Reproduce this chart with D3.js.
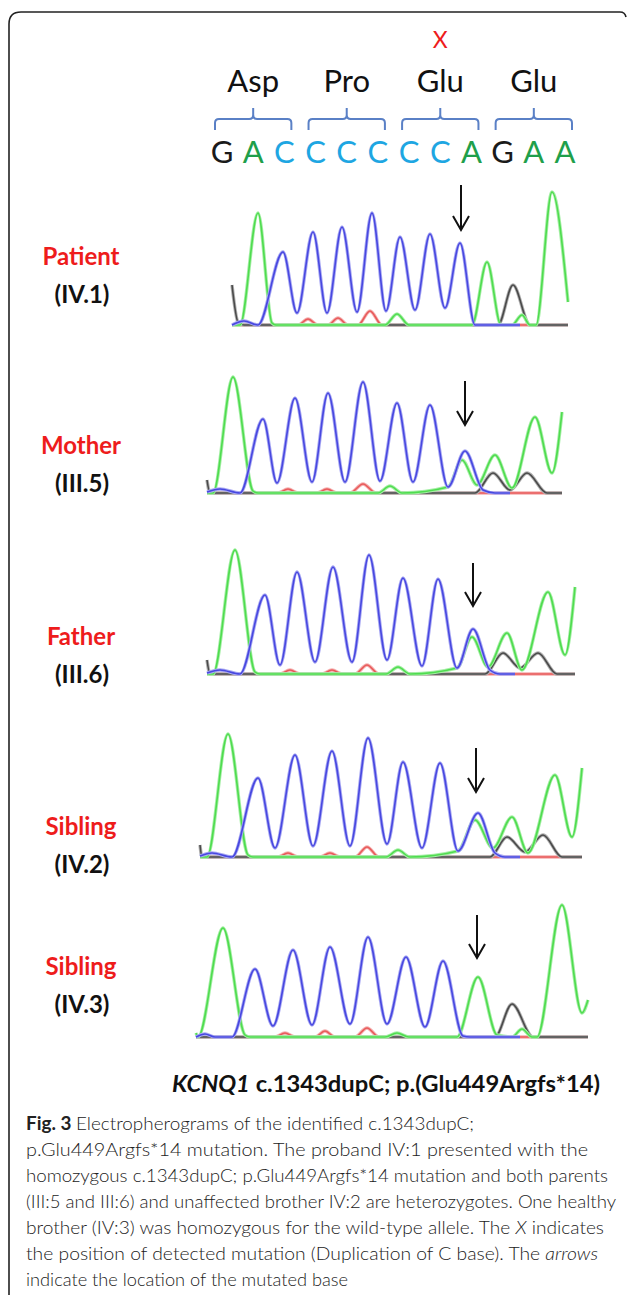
<!DOCTYPE html>
<html>
<head>
<meta charset="utf-8">
<script src="https://cdn.jsdelivr.net/npm/d3@7"></script>
<style>
  body { margin: 0; background: #fff; }
</style>
</head>
<body>
<div id="chart"></div>
<script>
// reference sequence shown above the traces
const bases = ["G", "A", "C", "C", "C", "C", "C", "C", "A", "G", "A", "A"];
const codons = ["Asp", "Pro", "Glu", "Glu"];
const mutatedCodon = 2;

const sampleNames = ["Patient", "Mother", "Father", "Sibling", "Sibling"];
const sampleIds = ["(IV.1)", "(III.5)", "(III.6)", "(IV.2)", "(IV.3)"];

// trace points: [scan, signal]
// A = green, C = blue, G = black, T = red
const patientA = [[42,0],[50,0],[68,1120],[82,20],[86,0],[195,0],[207,110],[219,0],[282,0],[297,630],[311,0],[322,0],[332,100],[340,0],[346,0],[362,1330],[378,230]];
const patientC = [[42,0],[54,40],[68,0],[93,730],[107,120],[123,930],[137,120],[152,980],[167,130],[182,1120],[196,140],[210,880],[225,150],[240,910],[255,170],[270,820],[285,0],[330,0]];
const patientG = [[42,400],[48,30],[54,0],[308,0],[323,400],[340,0],[378,0]];
const patientT = [[42,0],[108,0],[118,60],[128,0],[138,0],[148,70],[158,0],[168,0],[180,140],[192,0],[378,0]];

const motherA = [[17,0],[23,0],[43,1160],[63,20],[68,0],[188,0],[200,70],[212,0],[258,60],[272,330],[287,80],[305,380],[322,50],[345,760],[362,200],[372,810]];
const motherC = [[17,10],[30,40],[50,0],[73,740],[87,100],[105,950],[122,110],[138,1000],[155,110],[173,1110],[190,120],[207,900],[223,110],[240,880],[258,60],[275,420],[293,30],[305,0],[320,0]];
const motherG = [[17,130],[20,0],[285,0],[303,200],[320,30],[337,200],[357,0],[372,0]];
const motherT = [[17,0],[88,0],[98,40],[108,0],[127,0],[137,40],[147,0],[160,0],[173,90],[186,0],[372,0]];

const fatherA = [[17,0],[23,0],[45,1240],[65,20],[70,0],[196,0],[208,70],[220,0],[267,60],[282,370],[298,70],[317,410],[332,40],[358,820],[375,190],[385,870]];
const fatherC = [[17,10],[30,40],[50,0],[75,790],[90,90],[107,1020],[125,120],[143,1070],[162,120],[179,1190],[197,140],[213,960],[232,80],[248,950],[267,60],[283,450],[300,40],[310,0],[325,0]];
const fatherG = [[17,140],[20,0],[295,0],[313,210],[330,60],[348,210],[367,0],[385,0]];
const fatherT = [[17,0],[90,0],[100,40],[110,0],[132,0],[142,40],[152,0],[165,0],[177,90],[189,0],[385,0]];

const sib2A = [[10,0],[17,0],[38,1230],[58,20],[63,0],[196,0],[208,70],[220,0],[268,60],[285,370],[303,90],[322,400],[338,40],[365,820],[382,200],[392,890]];
const sib2C = [[10,10],[22,40],[42,0],[68,790],[85,90],[105,1020],[123,110],[142,1060],[160,110],[178,1190],[197,130],[213,950],[232,90],[250,940],[268,60],[288,440],[305,40],[315,0],[330,0]];
const sib2G = [[10,120],[12,0],[300,0],[317,200],[335,50],[353,220],[372,0],[392,0]];
const sib2T = [[10,0],[88,0],[98,40],[108,0],[130,0],[140,40],[150,0],[165,0],[177,100],[189,0],[392,0]];

const sib3A = [[6,40],[8,0],[33,1090],[55,20],[60,0],[195,0],[207,40],[219,0],[267,0],[288,600],[307,20],[322,0],[332,80],[342,0],[347,0],[372,1320],[392,240],[398,370]];
const sib3C = [[6,0],[15,30],[25,0],[42,0],[65,680],[83,110],[103,870],[122,120],[140,900],[160,130],[178,1000],[197,130],[216,800],[235,100],[253,760],[273,10],[280,0],[330,0]];
const sib3G = [[6,0],[305,0],[322,330],[343,0],[398,0]];
const sib3T = [[6,0],[85,0],[95,40],[105,0],[125,0],[135,60],[145,0],[165,0],[177,90],[189,0],[398,0]];

// arrow over the mutated base: [scan, top signal, tip signal]
const arrows = [[271,1400,950],[275,1120,680],[283,1110,680],[286,1090,650],[287,1220,790]];

const geneLabel = "KCNQ1";
const variantLabel = " c.1343dupC; p.(Glu449Argfs*14)";
const captionLines = [
  "Electropherograms of the identified c.1343dupC;",
  "p.Glu449Argfs*14 mutation. The proband IV:1 presented with the",
  "homozygous c.1343dupC; p.Glu449Argfs*14 mutation and both parents",
  "(III:5 and III:6) and unaffected brother IV:2 are heterozygotes. One healthy",
  "brother (IV:3) was homozygous for the wild-type allele. The |X| indicates",
  "the position of detected mutation (Duplication of C base). The |arrows|",
  "indicate the location of the mutated base"
];

const traces = [
  { A: patientA, C: patientC, G: patientG, T: patientT },
  { A: motherA, C: motherC, G: motherG, T: motherT },
  { A: fatherA, C: fatherC, G: fatherG, T: fatherT },
  { A: sib2A, C: sib2C, G: sib2G, T: sib2T },
  { A: sib3A, C: sib3C, G: sib3G, T: sib3T }
];

const width = 627, height = 1299;
const baselines = [325, 493, 674, 857, 1037];
const labelY = [265, 454, 645, 835, 975];
// halo + core colour for each dye
const channelColor = {
  A: ["#a6efa6", "#4fdc4f"],
  C: ["#a9a9f3", "#4848e0"],
  G: ["#b0b0b0", "#4a4a4a"],
  T: ["#f5b0b0", "#e85a5a"]
};
const baseColor = { G: "#1a1a1a", A: "#1f9f4b", C: "#1ea6e2" };
const drawOrder = ["T", "G", "A", "C"];

const svg = d3.select("#chart").append("svg")
  .attr("width", width)
  .attr("height", height)
  .style("font-family", "Lato, 'Open Sans', sans-serif");

// frame
svg.append("path")
  .attr("d", "M9,1295 L9,24 Q9,12 21,12 L620,12 Q625,12 626,17")
  .attr("fill", "none")
  .attr("stroke", "#222")
  .attr("stroke-width", 1.6);

// sequence header
const bx = d3.scalePoint().domain(d3.range(bases.length)).range([222, 565]);

svg.append("g").selectAll("text")
  .data(bases)
  .join("text")
  .attr("x", (d, i) => bx(i))
  .attr("y", 163)
  .attr("text-anchor", "middle")
  .attr("font-size", 31)
  .attr("fill", d => baseColor[d])
  .text(d => d);

const bracketY = 119;
codons.forEach((c, g) => {
  const x0 = bx(g * 3) - 7, x1 = bx(g * 3 + 2) + 7, xm = (x0 + x1) / 2;
  svg.append("path")
    .attr("d", `M${x0},${bracketY + 11} L${x0},${bracketY + 4} Q${x0},${bracketY} ${x0 + 4},${bracketY}
      L${xm - 4},${bracketY} Q${xm},${bracketY} ${xm},${bracketY - 4} L${xm},${bracketY - 11}
      M${xm},${bracketY - 4} Q${xm},${bracketY} ${xm + 4},${bracketY}
      L${x1 - 4},${bracketY} Q${x1},${bracketY} ${x1},${bracketY + 4} L${x1},${bracketY + 11}`)
    .attr("fill", "none")
    .attr("stroke", "#5a80c6")
    .attr("stroke-width", 2);
  svg.append("text")
    .attr("x", xm)
    .attr("y", 92)
    .attr("text-anchor", "middle")
    .attr("font-size", 31)
    .attr("fill", "#111")
    .text(c);
  if (g === mutatedCodon) {
    svg.append("text")
      .attr("x", xm)
      .attr("y", 48)
      .attr("text-anchor", "middle")
      .attr("font-size", 23)
      .attr("fill", "#ee1c1c")
      .text("X");
  }
});

// traces
const x = d3.scaleLinear().domain([0, 400]).range([190, 590]);

traces.forEach((t, i) => {
  const y = d3.scaleLinear().domain([0, 1500]).range([baselines[i], baselines[i] - 150]);
  const line = d3.line()
    .x(d => x(d[0]))
    .y(d => y(d[1]))
    .curve(d3.curveMonotoneX);
  const g = svg.append("g");
  drawOrder.forEach(ch => {
    g.append("path")
      .attr("d", line(t[ch]))
      .attr("fill", "none")
      .attr("stroke", channelColor[ch][0])
      .attr("stroke-width", 3.4)
      .attr("stroke-linejoin", "round");
    g.append("path")
      .attr("d", line(t[ch]))
      .attr("fill", "none")
      .attr("stroke", channelColor[ch][1])
      .attr("stroke-width", 1.6)
      .attr("stroke-linejoin", "round");
  });

  const [as, aTop, aTip] = arrows[i];
  const ax = x(as), ay0 = y(aTop), ay1 = y(aTip);
  g.append("path")
    .attr("d", `M${ax},${ay0} L${ax},${ay1} M${ax - 8},${ay1 - 14} L${ax},${ay1} L${ax + 8},${ay1 - 14}`)
    .attr("fill", "none")
    .attr("stroke", "#111")
    .attr("stroke-width", 2);

  svg.append("text")
    .attr("x", 81)
    .attr("y", labelY[i])
    .attr("text-anchor", "middle")
    .attr("font-size", 24)
    .attr("font-weight", "bold")
    .attr("fill", "#ee1c1c")
    .text(sampleNames[i]);
  svg.append("text")
    .attr("x", 82)
    .attr("y", labelY[i] + 38)
    .attr("text-anchor", "middle")
    .attr("font-size", 24)
    .attr("font-weight", "bold")
    .attr("fill", "#111")
    .text(sampleIds[i]);
});

// gene / variant line
const gl = svg.append("text")
  .attr("x", 172)
  .attr("y", 1092)
  .attr("font-size", 22)
  .attr("font-weight", "bold")
  .attr("fill", "#111")
  .attr("textLength", 428)
  .attr("lengthAdjust", "spacingAndGlyphs");
gl.append("tspan").attr("font-style", "italic").text(geneLabel);
gl.append("tspan").text(variantLabel);

// figure caption
const capLengths = [474, 588, 608, 616, 604, 598, 348];
captionLines.forEach((ln, i) => {
  const t = svg.append("text")
    .attr("x", 26)
    .attr("y", 1130 + i * 26)
    .attr("font-size", 18)
    .attr("font-weight", 300)
    .attr("fill", "#222")
    .attr("textLength", capLengths[i] - 26)
    .attr("lengthAdjust", "spacingAndGlyphs");
  if (i === 0) {
    t.append("tspan").attr("font-weight", "bold").text("Fig. 3 ");
  }
  ln.split("|").forEach((part, k) => {
    t.append("tspan")
      .attr("font-style", k % 2 === 1 ? "italic" : null)
      .text(part);
  });
});
</script>
</body>
</html>
